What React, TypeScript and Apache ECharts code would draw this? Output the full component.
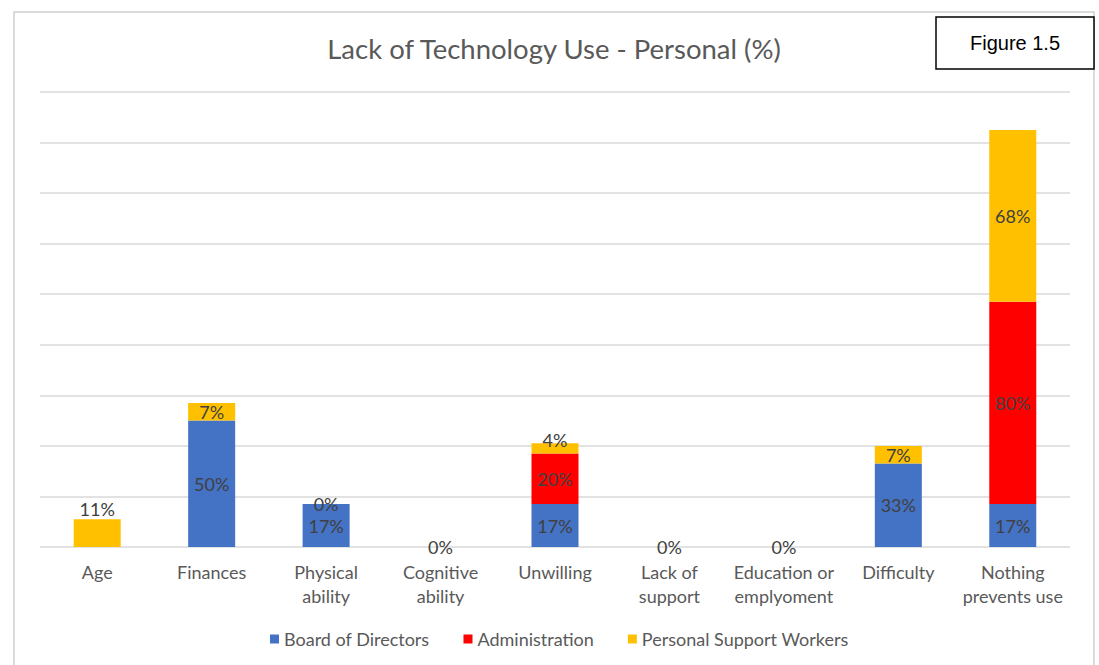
import React, { useEffect, useRef } from "react";
import * as echarts from "echarts";

const categories = [
  "Age",
  "Finances",
  "Physical\nability",
  "Cognitive\nability",
  "Unwilling",
  "Lack of\nsupport",
  "Education or\nemplyoment",
  "Difficulty",
  "Nothing\nprevents use",
];

// Percent values per group; null means the cell is blank (no bar, no label)
const boardOfDirectors = [null, 50, 17, null, 17, null, null, 33, 17];
const administration = [null, null, null, null, 20, null, null, null, 80];
const personalSupportWorkers = [11, 7, 0, 0, 4, 0, 0, 7, 68];

// Groups whose PSW label sits just above the bar instead of centred in it
const pswLabelOnTop = [0, 4];

const seriesNames = ["Board of Directors", "Administration", "Personal Support Workers"];
const seriesColors = ["#4472C4", "#FF0000", "#FFC000"];

const FONT = "Lato, 'Open Sans', sans-serif";
const TEXT = "#595959";

export default function App() {
  const ref = useRef<HTMLDivElement>(null);

  useEffect(() => {
    document.body.style.margin = "0";
    const chart = echarts.init(ref.current!, null, { renderer: "svg" });

    const labelStyle = {
      show: true,
      position: "inside" as const,
      formatter: "{c}%",
      color: "#404040",
      fontFamily: FONT,
      fontSize: 18,
    };

    const makeSeries = (name: string, values: (number | null)[], color: string, topIdx: number[] = []) => ({
      name,
      type: "bar",
      stack: "total",
      barWidth: 47,
      itemStyle: { color },
      label: labelStyle,
      data: values.map((v, i) =>
        topIdx.includes(i)
          ? { value: v, label: { position: "top", distance: 1, offset: [0, i === 4 ? 7 : 0] } }
          : v
      ),
    });

    chart.setOption({
      animation: false,
      backgroundColor: "#ffffff",
      textStyle: { fontFamily: FONT },
      grid: { left: 40, right: 29, top: 92, bottom: 118, containLabel: false },
      legend: {
        data: seriesNames,
        left: 265,
        top: 625,
        itemWidth: 9,
        itemHeight: 9,
        itemGap: 34,
        icon: "rect",
        textStyle: { color: TEXT, fontFamily: FONT, fontSize: 18 },
      },
      xAxis: {
        type: "category",
        data: categories,
        axisLine: { show: false },
        axisTick: { show: false },
        axisLabel: {
          color: TEXT,
          fontFamily: FONT,
          fontSize: 18,
          lineHeight: 24,
          margin: 13,
          interval: 0,
        },
      },
      yAxis: {
        type: "value",
        min: 0,
        max: 180,
        interval: 20,
        axisLabel: { show: false },
        axisLine: { show: false },
        axisTick: { show: false },
        splitLine: { lineStyle: { color: "#D9D9D9", width: 1.5 } },
      },
      series: [
        makeSeries(seriesNames[0], boardOfDirectors, seriesColors[0]),
        makeSeries(seriesNames[1], administration, seriesColors[1]),
        makeSeries(seriesNames[2], personalSupportWorkers, seriesColors[2], pswLabelOnTop),
      ],
      graphic: [
        {
          type: "rect",
          silent: true,
          shape: { x: 14, y: 12, width: 1080, height: 670 },
          style: { fill: "none", stroke: "#D0D0D0", lineWidth: 1.5 },
          z: -1,
        },
        {
          type: "text",
          x: 554,
          y: 48,
          style: {
            text: "Lack of Technology Use - Personal (%)",
            fill: TEXT,
            font: `27.5px ${FONT}`,
            align: "center",
            verticalAlign: "middle",
          },
        },
        {
          type: "rect",
          shape: { x: 936, y: 17, width: 158, height: 52 },
          style: { fill: "#ffffff", stroke: "#000000", lineWidth: 1.5 },
        },
        {
          type: "text",
          x: 1015,
          y: 43,
          style: {
            text: "Figure 1.5",
            fill: "#000000",
            font: "20px 'Liberation Sans', Arial, sans-serif",
            align: "center",
            verticalAlign: "middle",
          },
        },
      ],
    });

    return () => chart.dispose();
  }, []);

  return (
    <div
      ref={ref}
      style={{ position: "absolute", left: 0, top: 0, width: 1099, height: 665 }}
    />
  );
}
